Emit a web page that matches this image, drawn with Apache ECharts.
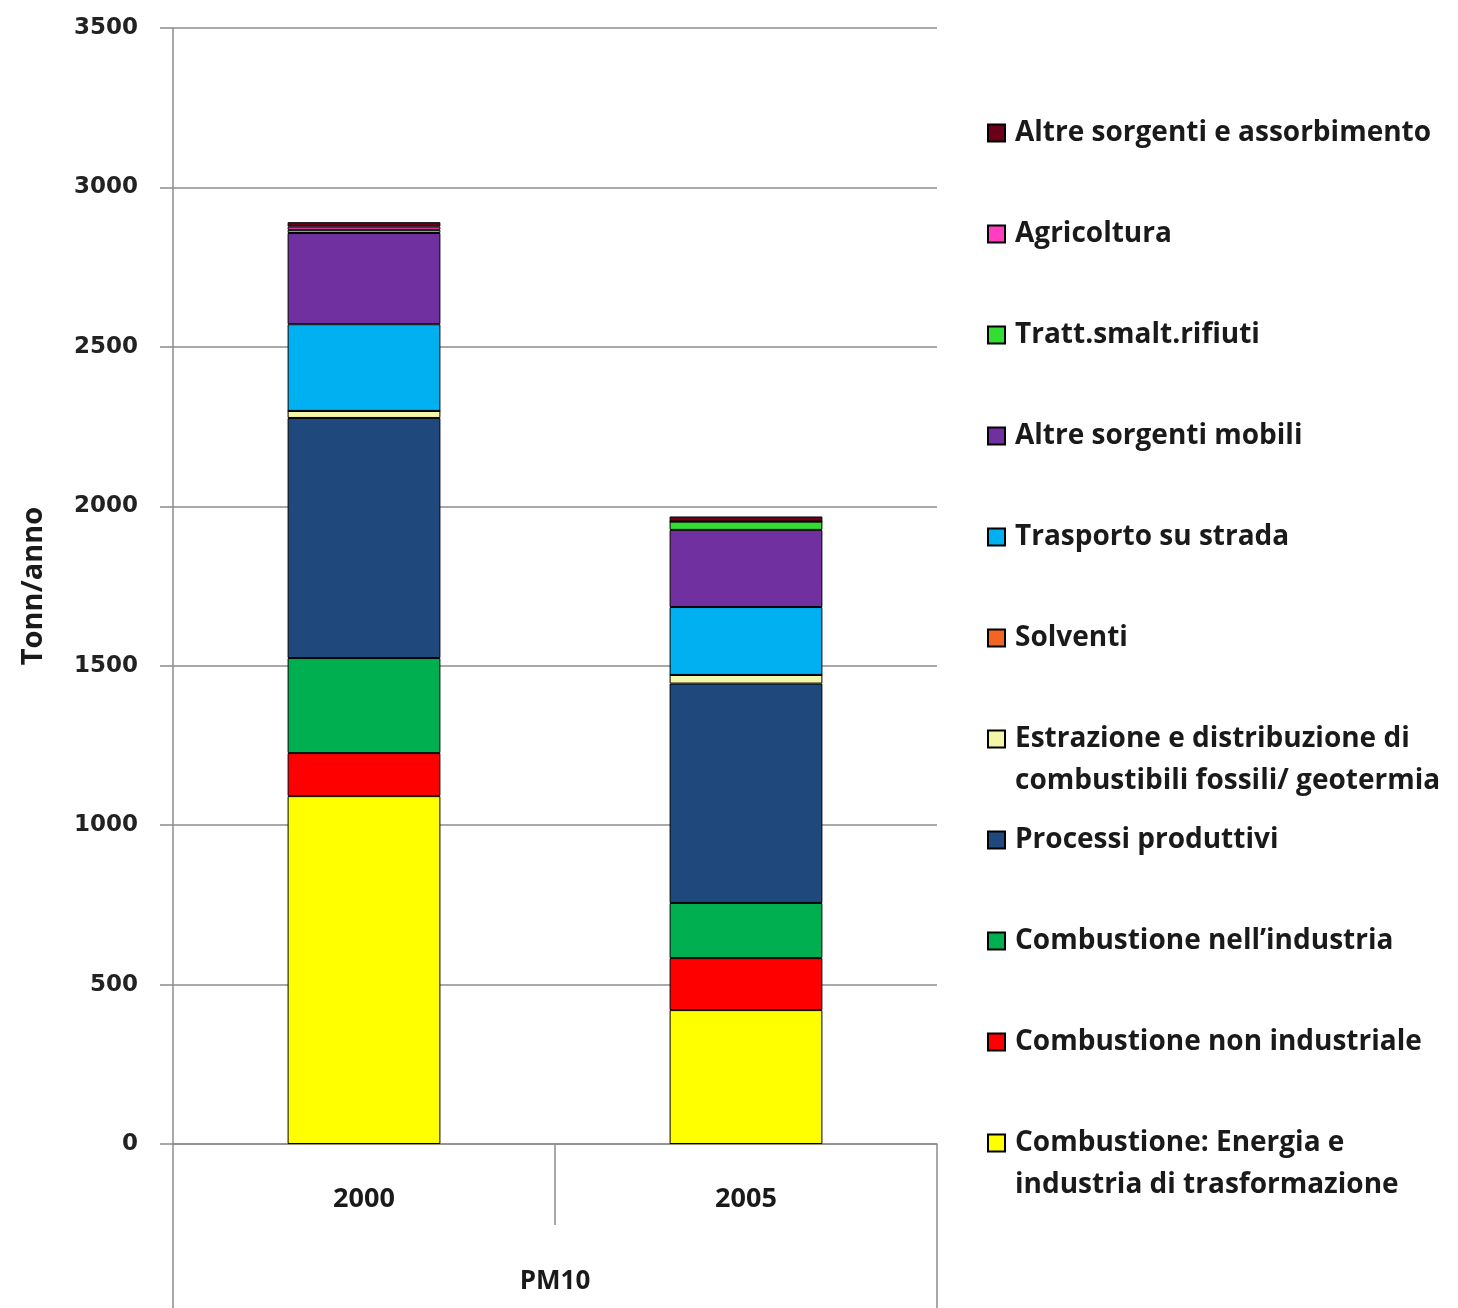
<!DOCTYPE html>
<html>
<head>
<meta charset="utf-8">
<title>PM10</title>
<script src="https://cdn.jsdelivr.net/npm/echarts@6/dist/echarts.min.js"></script>
<style>
  html, body { margin: 0; padding: 0; background: #fff; }
  #chart { width: 1458px; height: 1308px; }
</style>
</head>
<body>
<div id="chart"></div>
<script>
// Emissioni di PM10 per macrosettore (Tonn/anno)
const years = ['2000', '2005'];
const groupLabel = ['PM10'];

const sectorNames = [
  'Combustione: Energia e\nindustria di trasformazione',
  'Combustione non industriale',
  'Combustione nell\u2019industria',
  'Processi produttivi',
  'Estrazione e distribuzione di\ncombustibili fossili/ geotermia',
  'Solventi',
  'Trasporto su strada',
  'Altre sorgenti mobili',
  'Tratt.smalt.rifiuti',
  'Agricoltura',
  'Altre sorgenti e assorbimento'
];

const sectorColors = [
  '#ffff00', '#ff0000', '#00b050', '#1f497d', '#f5f7a8', '#f26522',
  '#00b0f0', '#7030a0', '#33dd33', '#ff3fbf', '#6d0019'
];

// valori per 2000 e 2005
const energia       = [1091, 420];
const nonIndustr    = [135, 163];
const industria     = [298, 173];
const processi      = [753, 688];
const estrazione    = [22, 27];
const solventi      = [0, 0];
const trasporto     = [272, 213];
const mobili        = [286, 242];
const rifiuti       = [10, 26];
const agricoltura   = [10, 0];
const altre         = [14, 16];

const sectorValues = [energia, nonIndustr, industria, processi, estrazione,
  solventi, trasporto, mobili, rifiuti, agricoltura, altre];

const yTicks = { min: 0, max: 3500, interval: 500 };

const mainFont = 'Open Sans';
const textColor = '#1a1a1a';
const axisGray = '#8c8c8c';

const series = sectorNames.map((name, i) => ({
  name: name,
  type: 'bar',
  stack: 'pm10',
  barWidth: '40%',
  data: sectorValues[i],
  itemStyle: { color: sectorColors[i], borderColor: '#000', borderWidth: 1 },
  emphasis: { disabled: true }
}));

// legenda: una voce per riga, dall'alto verso il basso in ordine inverso;
// per le voci su due righe il quadratino resta allineato alla prima riga
const legendFirstY = 133;
const legendStep = 101;
const legendLine = 42;
const legends = sectorNames.slice().reverse().map((name, k) => {
  const multi = name.indexOf('\n') >= 0;
  const cy = legendFirstY + k * legendStep;
  return {
    data: [name],
    orient: 'vertical',
    left: 987,
    top: multi ? cy - legendLine * 1.5 : cy - legendLine / 2,
    padding: 0,
    itemWidth: 17,
    itemHeight: 17,
    icon: 'rect',
    selectedMode: false,
    formatter: multi ? (n) => ' \n' + n : (n) => n,
    textStyle: {
      fontFamily: mainFont,
      fontWeight: 'bold',
      fontSize: 28,
      color: textColor,
      lineHeight: legendLine,
      padding: [0, 0, 0, 5]
    }
  };
});

const chart = echarts.init(document.getElementById('chart'));
chart.setOption({
  animation: false,
  backgroundColor: '#fff',
  grid: { left: 173, right: 521, top: 28, bottom: 164 },
  legend: legends,
  xAxis: [
    {
      type: 'category',
      data: years,
      position: 'bottom',
      axisLine: { lineStyle: { color: axisGray, width: 1.5 } },
      axisTick: { show: true, length: 81, lineStyle: { color: axisGray, width: 1.5 } },
      axisLabel: {
        margin: 42,
        fontFamily: mainFont, fontWeight: 'bold', fontSize: 27, color: textColor
      }
    },
    {
      type: 'category',
      data: groupLabel,
      position: 'bottom',
      axisLine: { show: false },
      axisTick: { show: true, length: 164, lineStyle: { color: axisGray, width: 1.5 } },
      axisLabel: {
        margin: 125,
        fontFamily: mainFont, fontWeight: 'bold', fontSize: 26, color: textColor
      }
    }
  ],
  yAxis: {
    type: 'value',
    min: yTicks.min,
    max: yTicks.max,
    interval: yTicks.interval,
    name: 'Tonn/anno',
    nameLocation: 'middle',
    nameGap: 125,
    nameTextStyle: { fontFamily: mainFont, fontWeight: 'bold', fontSize: 29, color: textColor },
    axisLine: { show: true, lineStyle: { color: axisGray, width: 1.5 } },
    axisTick: { show: true, inside: false, length: 13, lineStyle: { color: axisGray, width: 1.5 } },
    axisLabel: {
      margin: 35,
      formatter: (v) => String(v),
      fontFamily: 'DejaVu Sans', fontWeight: 'bold', fontSize: 23, color: '#222'
    },
    splitLine: { show: true, lineStyle: { color: axisGray, width: 1.5 } }
  },
  series: series
});
</script>
</body>
</html>
